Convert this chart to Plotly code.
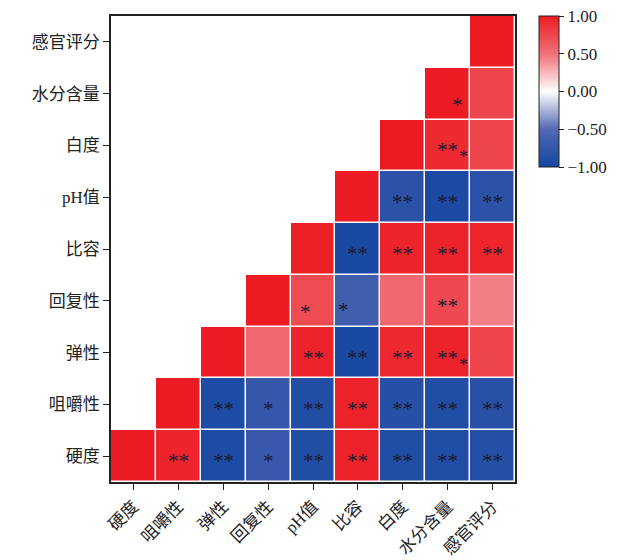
import plotly.graph_objects as go

x_labels = ["硬度", "咀嚼性", "弹性", "回复性", "pH值", "比容", "白度", "水分含量", "感官评分"]
y_labels = ["硬度", "咀嚼性", "弹性", "回复性", "比容", "pH值", "白度", "水分含量", "感官评分"]

N = None
r_hardness = [1.00, 0.95, -0.92, -0.72, -0.90, 0.96, -0.90, -0.90, -0.86]
r_chew = [N, 1.00, -0.92, -0.74, -0.90, 0.96, -0.86, -0.90, -0.84]
r_spring = [N, N, 1.00, 0.55, 0.96, -0.95, 0.93, 0.96, 0.76]
r_resil = [N, N, N, 1.00, 0.72, -0.66, 0.55, 0.74, 0.45]
r_volume = [N, N, N, N, 0.98, -0.95, 0.95, 0.96, 0.94]
r_ph = [N, N, N, N, N, 1.00, -0.82, -0.94, -0.82]
r_white = [N, N, N, N, N, N, 1.00, 0.92, 0.76]
r_water = [N, N, N, N, N, N, N, 1.00, 0.76]
r_sensory = [N, N, N, N, N, N, N, N, 1.00]
z = [r_hardness, r_chew, r_spring, r_resil, r_volume, r_ph, r_white, r_water, r_sensory]

s_hardness = ["", "**", "**", "*", "**", "**", "**", "**", "**"]
s_chew = ["", "", "**", "*", "**", "**", "**", "**", "**"]
s_spring = ["", "", "", "", "**", "**", "**", "**", ""]
s_resil = ["", "", "", "", "*", "*", "", "**", ""]
s_volume = ["", "", "", "", "", "**", "**", "**", "**"]
s_ph = ["", "", "", "", "", "", "**", "**", "**"]
s_white = ["", "", "", "", "", "", "", "**", ""]
s_water = ["", "", "", "", "", "", "", "*", ""]
s_sensory = [""] * 9
stars = [s_hardness, s_chew, s_spring, s_resil, s_volume, s_ph, s_white, s_water, s_sensory]
# extra small star marks (row index, col index)
extra_stars = [(2, 7), (6, 7)]

offsets = {(3, 4): (-8, -6), (3, 5): (-14, -4), (7, 7): (10, -6)}

colorscale = [
    [0.0, "#1446a0"],
    [0.25, "#5468b4"],
    [0.5, "#ffffff"],
    [0.75, "#f07078"],
    [1.0, "#ed1c24"],
]

fig = go.Figure()
fig.add_trace(go.Heatmap(
    z=z, x=x_labels, y=y_labels, zmin=-1, zmax=1,
    colorscale=colorscale, xgap=1.5, ygap=1.5, hoverongaps=False,
    colorbar=dict(
        x=1.059, xanchor="left", xpad=0, y=1, yanchor="top", ypad=0,
        len=0.324, lenmode="fraction", thickness=20,
        outlinecolor="#222", outlinewidth=1,
        tickvals=[-1, -0.5, 0, 0.5, 1], tickformat=".2f",
        ticks="outside", ticklen=5, tickcolor="#222",
        tickfont=dict(family="Liberation Serif", size=17, color="#222"),
    ),
))

anns = []
for i in range(9):
    for j in range(9):
        t = stars[i][j]
        if t:
            dx, dy = offsets.get((i, j), (0, 0))
            anns.append(dict(x=x_labels[j], y=y_labels[i], text=t, showarrow=False,
                             xshift=dx, yshift=dy - 5,
                             font=dict(family="Liberation Serif", size=21, color="#1a1a33")))
for (i, j) in extra_stars:
    anns.append(dict(x=x_labels[j], y=y_labels[i], text="*", showarrow=False,
                     xshift=16, yshift=-12,
                     font=dict(family="Liberation Serif", size=18, color="#1a1a33")))

axis_font = dict(family="Liberation Serif, Noto Sans CJK SC", size=17, color="#222")
fig.update_layout(
    width=630, height=560,
    margin=dict(l=111, r=115, t=16, b=78),
    plot_bgcolor="white", paper_bgcolor="white",
    annotations=anns,
    xaxis=dict(type="category", categoryorder="array", categoryarray=x_labels,
               tickangle=-45, ticks="outside", ticklen=6, tickcolor="#222",
               tickfont=axis_font, showline=True, linecolor="#222", linewidth=1.5,
               mirror=True, showgrid=False, zeroline=False, automargin=False),
    yaxis=dict(type="category", categoryorder="array", categoryarray=y_labels,
               ticks="outside", ticklen=6, tickcolor="#222",
               tickfont=axis_font, showline=True, linecolor="#222", linewidth=1.5,
               mirror=True, showgrid=False, zeroline=False, automargin=False),
)

fig.write_html("out.html")
